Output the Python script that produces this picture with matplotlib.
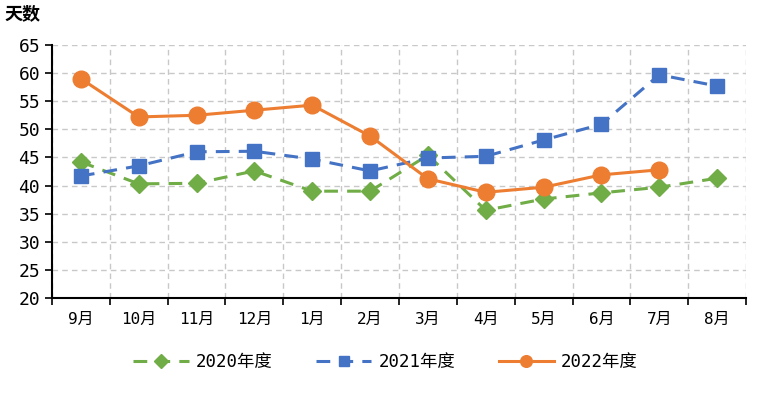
import matplotlib
matplotlib.use("Agg")
import matplotlib.pyplot as plt
from matplotlib.ticker import FixedLocator

plt.rcParams['font.family'] = ['DejaVu Sans Mono', 'Noto Sans CJK SC']

months = ["9月", "10月", "11月", "12月", "1月", "2月", "3月", "4月", "5月", "6月", "7月", "8月"]
s2020 = [44.2, 40.3, 40.4, 42.6, 39.0, 39.0, 45.4, 35.6, 37.6, 38.7, 39.7, 41.3]
s2021 = [41.7, 43.5, 46.0, 46.1, 44.7, 42.6, 44.9, 45.2, 48.1, 50.9, 59.7, 57.7]
s2022 = [59.0, 52.2, 52.5, 53.4, 54.3, 48.8, 41.2, 38.8, 39.7, 41.9, 42.8]
labels = ["2020年度", "2021年度", "2022年度"]
yticks = [20, 25, 30, 35, 40, 45, 50, 55, 60, 65]

fig = plt.figure(figsize=(7.71, 3.95), dpi=100)
ax = fig.add_axes([0.0674, 0.2456, 0.9002, 0.6405])

x = list(range(len(months)))
ax.plot(x, s2020, color="#70AD47", linestyle=(0, (4.5, 3)), linewidth=2.2,
        marker="D", markersize=9.5, label=labels[0])
ax.plot(x, s2021, color="#4472C4", linestyle=(0, (4.5, 3)), linewidth=2.2,
        marker="s", markersize=10.5, label=labels[1])
ax.plot(x[:len(s2022)], s2022, color="#ED7D31", linestyle="-", linewidth=2.2,
        marker="o", markersize=12, label=labels[2])

ax.set_xlim(-0.5, len(months) - 0.5)
ax.set_ylim(20, 65)
ax.set_yticks(yticks)
ax.set_xticks(x)
ax.set_xticklabels(months)
ax.xaxis.set_minor_locator(FixedLocator([i - 0.5 for i in range(len(months) + 1)]))
ax.tick_params(axis='x', which='major', length=0, pad=10, labelsize=11.5)
ax.tick_params(axis='x', which='minor', length=5, width=1.2, direction='out')
ax.tick_params(axis='y', length=5, width=1.2, direction='out', labelsize=13)

ax.grid(True, axis='y', color="#C8C8C8", linestyle=(0, (4, 3)), linewidth=1)
ax.grid(True, axis='x', which='minor', color="#C8C8C8", linestyle=(0, (4, 3)), linewidth=1)
ax.set_axisbelow(True)
for s in ["top", "right"]:
    ax.spines[s].set_visible(False)
ax.spines["left"].set_linewidth(1.5)
ax.spines["bottom"].set_linewidth(1.5)

fig.text(0.006, 0.963, "天数", fontsize=13, ha='left', va='center', fontweight='bold')

leg = fig.legend(loc='center', bbox_to_anchor=(0.5, 0.083), ncol=3, frameon=False,
                 fontsize=12.5, handlelength=3.2, columnspacing=2.5, handletextpad=0.4,
                 markerscale=0.7)

fig.savefig("out.png", dpi=100)
